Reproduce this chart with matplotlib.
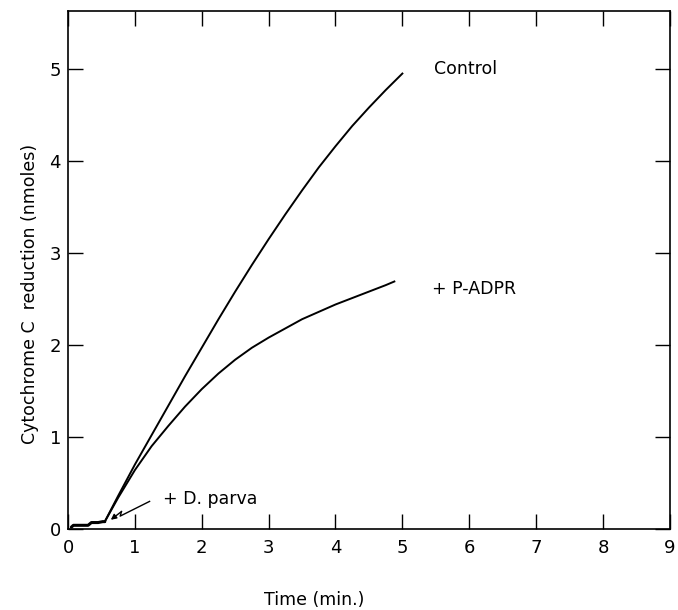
import matplotlib
matplotlib.use('Agg')
import matplotlib.pyplot as plt

# Control curve
control_t = [0.55, 0.75, 1.0, 1.25, 1.5, 1.75, 2.0, 2.25, 2.5, 2.75,
             3.0, 3.25, 3.5, 3.75, 4.0, 4.25, 4.5, 4.75, 5.0]
control_v = [0.08, 0.36, 0.70, 1.02, 1.34, 1.66, 1.97, 2.28, 2.58, 2.87,
             3.15, 3.42, 3.68, 3.93, 4.16, 4.38, 4.58, 4.77, 4.95]

# + P-ADPR curve
padpr_t = [0.55, 0.75, 1.0, 1.25, 1.5, 1.75, 2.0, 2.25, 2.5, 2.75,
           3.0, 3.25, 3.5, 3.75, 4.0, 4.25, 4.5, 4.75, 4.88]
padpr_v = [0.08, 0.34, 0.64, 0.90, 1.12, 1.33, 1.52, 1.69, 1.84, 1.97,
           2.08, 2.18, 2.28, 2.36, 2.44, 2.51, 2.58, 2.65, 2.69]

# baseline before addition
base_t = [0.05, 0.08, 0.15, 0.30, 0.35, 0.45, 0.52, 0.55]
base_v = [0.02, 0.04, 0.04, 0.04, 0.07, 0.07, 0.08, 0.08]

# zig-zag arrow marking addition of D. parva
arrow_t = [1.22, 0.78, 0.80]
arrow_v = [0.30, 0.14, 0.19]
arrow_tip = (0.64, 0.10)

xticks = list(range(0, 10))
yticks = list(range(0, 6))

plt.rcParams['font.family'] = 'DejaVu Sans'

fig = plt.figure(figsize=(6.78, 6.10), dpi=100)
ax = fig.add_axes([0.1003, 0.1328, 0.8877, 0.8492])

ax.plot(base_t, base_v, color='black', lw=2.2, solid_capstyle='round')
ax.plot(control_t, control_v, color='black', lw=1.4, solid_joinstyle='round')
ax.plot(padpr_t, padpr_v, color='black', lw=1.4, solid_joinstyle='round')

# arrow
ax.plot(arrow_t, arrow_v, color='black', lw=1.0)
ax.annotate('', xy=arrow_tip, xytext=(arrow_t[-1], arrow_v[-1]),
            arrowprops=dict(arrowstyle='-|>', color='black', lw=1.0,
                            mutation_scale=8, shrinkA=0, shrinkB=0))

# labels on the curves
ax.text(5.48, 5.0, 'Control', fontsize=12.5, va='center', ha='left')
ax.text(5.45, 2.61, '+ P-ADPR', fontsize=12.5, va='center', ha='left')
ax.text(1.42, 0.33, '+ D. parva', fontsize=12.5, va='center', ha='left')

ax.set_xlim(0, 9)
ax.set_ylim(0, 5.63)
ax.set_xticks(xticks)
ax.set_yticks(yticks)
ax.tick_params(direction='in', length=11, width=1.0, labelsize=13,
               top=True, right=True)
ax.tick_params(axis='x', pad=7)
ax.tick_params(axis='y', pad=5)
for s in ax.spines.values():
    s.set_linewidth(1.2)

fig.text(314 / 678, 1 - 600 / 610, 'Time (min.)', fontsize=12.5,
         ha='center', va='center')
fig.text(30 / 678, 1 - 294 / 610, 'Cytochrome C  reduction (nmoles)',
         fontsize=12.5, ha='center', va='center', rotation=90)

fig.savefig('out.png', dpi=100)
